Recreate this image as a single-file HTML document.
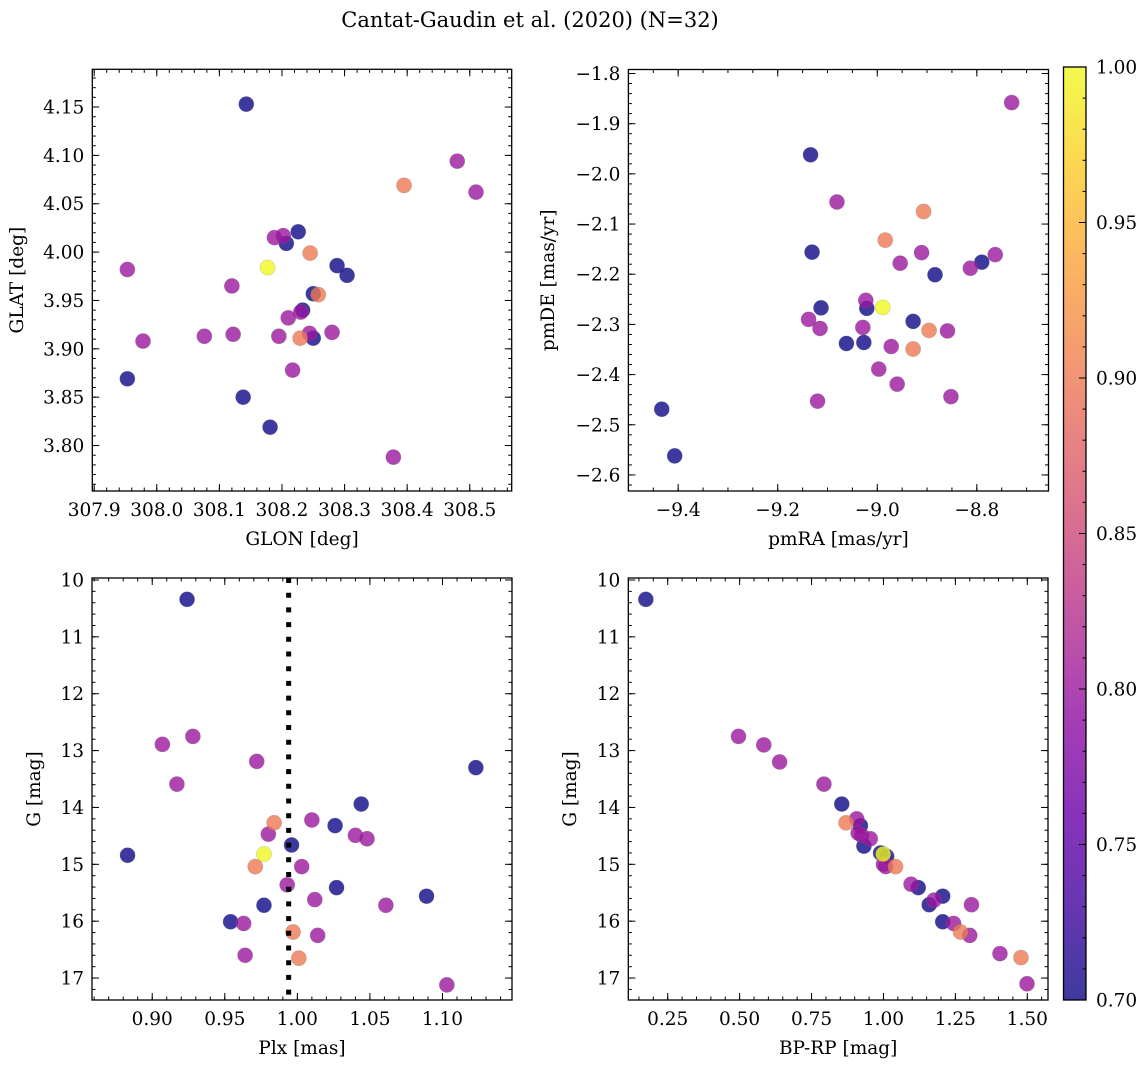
<!DOCTYPE html>
<html><head><meta charset="utf-8">
<style>
html,body{margin:0;padding:0;background:#fff;}
svg{display:block;font-family:"DejaVu Serif","Liberation Serif",serif;}
</style></head>
<body>
<svg id="fig" width="1148" height="1067" viewBox="0 0 1148 1067" xmlns="http://www.w3.org/2000/svg">
<text x="530" y="27" text-anchor="middle" font-size="21">Cantat-Gaudin et al. (2020) (N=32)</text>
</svg>
<script>
// ---- Panel 1: GLON vs GLAT ----
const glon = [308.143,308.480,308.395,308.510,308.188,308.202,308.207,308.226,308.245,308.177,308.288,308.304,307.953,308.120,308.250,308.258,308.233,308.230,308.210,308.076,308.122,308.195,308.244,308.229,308.250,308.280,307.978,308.217,307.953,308.138,308.181,308.378];
const glat = [4.153,4.094,4.069,4.062,4.015,4.017,4.009,4.021,3.999,3.984,3.986,3.976,3.982,3.965,3.957,3.956,3.940,3.938,3.932,3.913,3.915,3.913,3.916,3.911,3.911,3.917,3.908,3.878,3.869,3.850,3.819,3.788];
const prob1 = [0.70,0.80,0.90,0.80,0.80,0.80,0.70,0.70,0.90,1.00,0.70,0.70,0.80,0.80,0.70,0.90,0.70,0.80,0.80,0.80,0.80,0.80,0.80,0.90,0.70,0.80,0.80,0.80,0.70,0.70,0.70,0.80];
// ---- Panel 2: pmRA vs pmDE ----
const pmra = [-8.730,-9.134,-9.433,-9.407,-9.081,-8.907,-8.984,-9.131,-8.911,-8.954,-8.790,-8.763,-8.813,-8.884,-9.023,-9.021,-8.989,-9.113,-9.138,-9.115,-9.029,-8.928,-8.896,-8.859,-9.062,-9.027,-8.972,-8.928,-8.997,-8.960,-8.852,-9.120];
const pmde = [-1.858,-1.962,-2.469,-2.562,-2.056,-2.075,-2.132,-2.156,-2.157,-2.178,-2.176,-2.161,-2.188,-2.201,-2.252,-2.268,-2.266,-2.267,-2.290,-2.308,-2.306,-2.294,-2.312,-2.313,-2.338,-2.336,-2.344,-2.349,-2.389,-2.419,-2.444,-2.453];
const prob2 = [0.80,0.70,0.70,0.70,0.80,0.90,0.90,0.70,0.80,0.80,0.70,0.80,0.80,0.70,0.80,0.70,1.00,0.70,0.80,0.80,0.80,0.70,0.90,0.80,0.70,0.70,0.80,0.90,0.80,0.80,0.80,0.80];
// ---- Panel 3: Plx vs G ----
const plx = [0.924,0.883,0.907,0.928,0.972,0.917,1.044,1.010,0.984,1.026,0.980,1.040,1.048,0.996,0.977,0.971,1.003,0.993,1.027,1.012,0.977,1.061,0.954,0.963,0.997,1.014,0.964,1.001,1.123,1.089,1.103];
const gmag3 = [10.34,14.84,12.89,12.75,13.19,13.59,13.94,14.22,14.27,14.32,14.47,14.49,14.55,14.66,14.82,15.04,15.04,15.36,15.41,15.62,15.72,15.72,16.01,16.04,16.19,16.25,16.60,16.65,13.30,15.56,17.12];
const prob3 = [0.70,0.70,0.80,0.80,0.80,0.80,0.70,0.80,0.90,0.70,0.80,0.80,0.80,0.70,1.00,0.90,0.80,0.80,0.70,0.80,0.70,0.80,0.70,0.80,0.90,0.80,0.80,0.90,0.70,0.70,0.80];
const plxRef = [0.994];
// ---- Panel 4: BP-RP vs G ----
const bprp = [0.174,0.496,0.584,0.639,0.793,0.855,0.870,0.907,0.920,0.924,0.954,0.932,0.912,0.990,0.999,1.011,1.008,1.042,1.096,1.121,1.159,1.176,1.206,1.306,1.206,1.244,1.268,1.300,1.405,1.478,1.499,1.000];
const gmag4 = [10.34,12.75,12.90,13.20,13.59,13.94,14.27,14.20,14.32,14.49,14.55,14.68,14.45,14.80,14.82,14.86,15.04,15.04,15.35,15.41,15.71,15.63,15.56,15.71,16.01,16.04,16.19,16.25,16.57,16.64,17.10,15.00];
const prob4 = [0.70,0.80,0.80,0.80,0.80,0.70,0.90,0.80,0.70,0.80,0.80,0.70,0.80,0.70,1.00,0.70,0.80,0.90,0.80,0.70,0.70,0.80,0.70,0.80,0.70,0.80,0.90,0.80,0.80,0.90,0.80,0.80];
// ---- Colorbar ----
const cbTicks = [0.70,0.75,0.80,0.85,0.90,0.95,1.00];

const NS="http://www.w3.org/2000/svg";
const svg=document.getElementById('fig');
const FS=18.5;
function mk(tag,attrs,parent){const e=document.createElementNS(NS,tag);for(const k in attrs)e.setAttribute(k,attrs[k]);(parent||svg).appendChild(e);return e;}
const plasmaStops=["#0d0887","#41049d","#6a00a8","#8f0da4","#b12a90","#cc4778","#e16462","#f2844b","#fca636","#fcce25","#f0f921"];
function hex(h){return [parseInt(h.slice(1,3),16),parseInt(h.slice(3,5),16),parseInt(h.slice(5,7),16)];}
function plasma(t){t=Math.max(0,Math.min(1,t));const f=t*10,i=Math.min(9,Math.floor(f)),u=f-i;const a=hex(plasmaStops[i]),b=hex(plasmaStops[i+1]);return 'rgb('+a.map((v,k)=>Math.round(v+(b[k]-v)*u)).join(',')+')';}
const VMIN=0.7,VMAX=1.0;
function fmt(v,d){const s=Math.abs(v).toFixed(d);return (v<-1e-9?'\u2212':'')+s;}

function panel(cfg){
  const {name,L,R,T,B,xd,yd,xMaj,xMin,yMaj,yMin,xdec,ydec,xs,ys,ps,xlabel,ylabel,ylabX}=cfg;
  const sx=v=>L+(v-xd[0])/(xd[1]-xd[0])*(R-L);
  const sy=v=>B-(v-yd[0])/(yd[1]-yd[0])*(B-T);
  const g=mk('g',{});
  
  
  const clipId=name+'-clip';
  const cp=mk('clipPath',{id:clipId},g);mk('rect',{x:L,y:T,width:R-L,height:B-T},cp);
  const pts=mk('g',{'clip-path':'url(#'+clipId+')'},g);
  
  
  const idx=xs.map((_,i)=>i).sort((a,b)=>ps[a]-ps[b]);
  idx.forEach(i=>{
    const c=mk('circle',{cx:sx(xs[i]),cy:sy(ys[i]),r:7.6,fill:plasma((ps[i]-VMIN)/(VMAX-VMIN)),'fill-opacity':0.8,stroke:'#777','stroke-opacity':0.35,'stroke-width':0.6},pts);
    
    
  });
  if(cfg.extra)cfg.extra(g,sx,sy,clipId);
  const tk=mk('g',{stroke:'#000','stroke-width':1},g);
  const eps=1e-9;
  function each(lo,hi,step,fn){const s=Math.ceil((lo-eps)/step);for(let k=s;k*step<=hi+eps;k++)fn(k*step);}
  const xlo=Math.min(...xd),xhi=Math.max(...xd),ylo=Math.min(...yd),yhi=Math.max(...yd);
  each(xlo,xhi,xMin,v=>{const x=sx(v);mk('line',{x1:x,x2:x,y1:B,y2:B-3.5},tk);mk('line',{x1:x,x2:x,y1:T,y2:T+3.5},tk);});
  each(ylo,yhi,yMin,v=>{const y=sy(v);mk('line',{x1:L,x2:L+3.5,y1:y,y2:y},tk);mk('line',{x1:R,x2:R-3.5,y1:y,y2:y},tk);});
  each(xlo,xhi,xMaj,v=>{const x=sx(v);mk('line',{x1:x,x2:x,y1:B,y2:B-7},tk);mk('line',{x1:x,x2:x,y1:T,y2:T+7},tk);
    const t=mk('text',{x:x,y:B+25,'text-anchor':'middle','font-size':FS},g);t.textContent=fmt(v,xdec);
    });
  each(ylo,yhi,yMaj,v=>{const y=sy(v);mk('line',{x1:L,x2:L+7,y1:y,y2:y},tk);mk('line',{x1:R,x2:R-7,y1:y,y2:y},tk);
    const t=mk('text',{x:L-8,y:y+6.5,'text-anchor':'end','font-size':FS},g);t.textContent=fmt(v,ydec);
    });
  const fr=mk('rect',{x:L,y:T,width:R-L,height:B-T,fill:'none',stroke:'#000','stroke-width':1.3},g);
  
  const xl=mk('text',{x:(L+R)/2,y:B+54,'text-anchor':'middle','font-size':FS},g);xl.textContent=xlabel;
  
  const yl=mk('text',{x:ylabX,y:(T+B)/2,'text-anchor':'middle','font-size':FS,transform:'rotate(-90 '+ylabX+' '+(T+B)/2+')'},g);yl.textContent=ylabel;
  
}

panel({name:'glon-glat-panel',L:92.3,R:511.7,T:69.3,B:491,xd:[307.897,308.567],yd:[3.753,4.189],xMaj:0.1,xMin:0.02,yMaj:0.05,yMin:0.01,xdec:1,ydec:2,xs:glon,ys:glat,ps:prob1,xlabel:'GLON [deg]',ylabel:'GLAT [deg]',ylabX:23});
panel({name:'pm-panel',L:628.4,R:1048.5,T:69.5,B:491,xd:[-9.5,-8.656],yd:[-2.632,-1.792],xMaj:0.2,xMin:0.05,yMaj:0.1,yMin:0.02,xdec:1,ydec:1,xs:pmra,ys:pmde,ps:prob2,xlabel:'pmRA [mas/yr]',ylabel:'pmDE [mas/yr]',ylabX:554});
panel({name:'plx-g-panel',L:92,R:512,T:578,B:1000,xd:[0.8585,1.1479],yd:[17.386,9.965],xMaj:0.05,xMin:0.01,yMaj:1,yMin:0.2,xdec:2,ydec:0,xs:plx,ys:gmag3,ps:prob3,xlabel:'Plx [mas]',ylabel:'G [mag]',ylabX:40,
  extra:(g,sx,sy,clipId)=>{plxRef.forEach(v=>{const l=mk('line',{x1:sx(v),x2:sx(v),y1:578,y2:1000,stroke:'#000','stroke-width':5,'stroke-dasharray':'5 9.7','clip-path':'url(#'+clipId+')'},g);
    });}});
panel({name:'cmd-panel',L:628.3,R:1048,T:578,B:1000,xd:[0.113,1.572],yd:[17.386,9.965],xMaj:0.25,xMin:0.05,yMaj:1,yMin:0.2,xdec:2,ydec:0,xs:bprp,ys:gmag4,ps:prob4,xlabel:'BP-RP [mag]',ylabel:'G [mag]',ylabX:576});

(function(){
  const L=1063.5,R=1086,T=67,B=1000;
  const g=mk('g',{});
  
  
  const defs=mk('defs',{},g);
  const lg=mk('linearGradient',{id:'cbgrad',x1:0,y1:1,x2:0,y2:0},defs);
  for(let i=0;i<=20;i++){mk('stop',{offset:i/20,'stop-color':plasma(i/20),'stop-opacity':0.8},lg);}
  mk('rect',{x:L,y:T,width:R-L,height:B-T,fill:'url(#cbgrad)'},g);
  const sy=v=>B-(v-VMIN)/(VMAX-VMIN)*(B-T);
  for(let v=0.70;v<=1.0001;v+=0.01){const y=sy(v);mk('line',{x1:R,x2:R-3.5,y1:y,y2:y,stroke:'#000'},g);}
  cbTicks.forEach(v=>{const y=sy(v);mk('line',{x1:R,x2:R-7,y1:y,y2:y,stroke:'#000'},g);
    const t=mk('text',{x:R+10,y:y+6.5,'font-size':FS},g);t.textContent=v.toFixed(2);
    });
  mk('rect',{x:L,y:T,width:R-L,height:B-T,fill:'none',stroke:'#000','stroke-width':1.3},g);
})();
</script>
</body></html>
